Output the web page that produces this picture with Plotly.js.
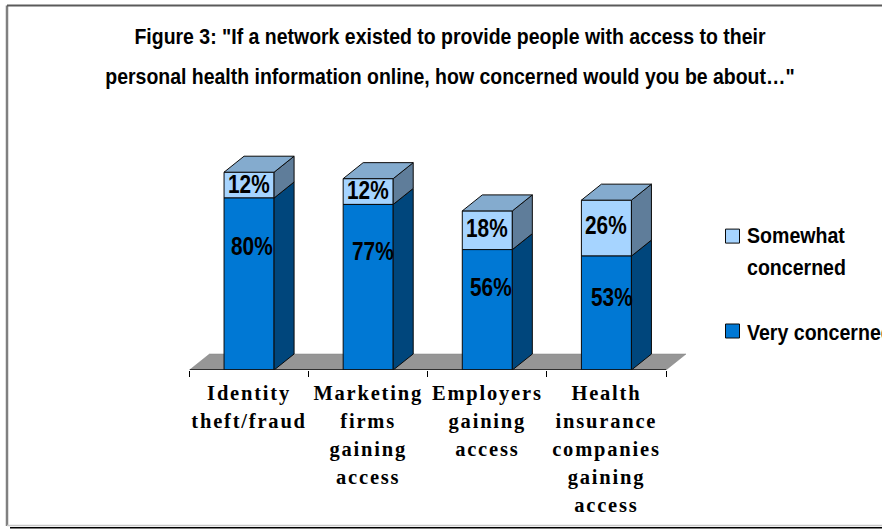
<!DOCTYPE html>
<html>
<head>
<meta charset="utf-8">
<script src="https://cdn.plot.ly/plotly-3.0.1.min.js"></script>
<style>
html,body{margin:0;padding:0;background:#fff;overflow:hidden}
.xtick text{letter-spacing:1.8px}
.gtitle{transform-box:fill-box;transform-origin:center;transform:scaleX(.885)}
.annotation-text{transform-box:fill-box;transform-origin:center;transform:scaleX(.8)}
.legendtext{transform-box:fill-box;transform-origin:left center;transform:translateX(-5.5px) scaleX(.89)}
</style>
</head>
<body>
<div id="chart" style="width:882px;height:529px"></div>
<script>
const categories = ["Identity<br>theft/fraud","Marketing<br>firms<br>gaining<br>access","Employers<br>gaining<br>access","Health<br>insurance<br>companies<br>gaining<br>access"];
const veryConcerned = [80,77,56,53];
const somewhatConcerned = [12,12,18,26];
const veryLabelShift = [48,47.5,38,41];
const veryLabelXShift = [3,4.5,4,6];
const somewhatLabelShift = [1,1,2,3];
const titleLines = '"If a network existed to provide people with access to their<br>personal health information online, how concerned would you be about…"';

const W=882,H=529, pxPerCat=119.1, pxPerPct=2.15;
const depthX=20/pxPerCat, depthY=16/pxPerPct, half=0.21;
const idx=categories.map((_,i)=>i);
const colors={front2:'#A6D4FF',front1:'#0078D4',side1:'#00467C',side2:'#5F7D9A',top:'#84ABCE',floor:'#969696'};
const face={type:'scatter',mode:'lines',fill:'toself',line:{color:'#0a0a0a',width:1},hoverinfo:'skip',showlegend:false,cliponaxis:false};
const traces=[];
traces.push({type:'bar',name:'Somewhat<br>concerned',x:idx,y:somewhatConcerned,base:veryConcerned,width:0.42,legendgroup:'b',marker:{color:colors.front2,line:{color:'#0a0a0a',width:1}},hoverinfo:'y'});
traces.push({type:'bar',name:'Very concerned',x:idx,y:veryConcerned,width:0.42,legendgroup:'a',marker:{color:colors.front1,line:{color:'#0a0a0a',width:1}},hoverinfo:'y'});
idx.forEach(i=>{
  const r=i+half, l=i-half, a=veryConcerned[i], b=a+somewhatConcerned[i];
  traces.push(Object.assign({},face,{x:[r,r+depthX,r+depthX,r,r],y:[0,depthY,a+depthY,a,0],fillcolor:colors.side1}));
  traces.push(Object.assign({},face,{x:[r,r+depthX,r+depthX,r,r],y:[a,a+depthY,b+depthY,b,a],fillcolor:colors.side2}));
  traces.push(Object.assign({},face,{x:[l,l+depthX,r+depthX,r,l],y:[b,b+depthY,b+depthY,b,b],fillcolor:colors.top}));
});
traces.push({type:'scatter',mode:'lines',x:[-0.5,3.5],y:[0,0],line:{color:'#111',width:1.5},hoverinfo:'skip',showlegend:false,cliponaxis:false});

const sans='"Liberation Sans",Arial,sans-serif';
const annFont={family:sans,size:26,color:'#000',weight:700};
const annotations=[];
idx.forEach(i=>{
  annotations.push({xref:'x',yref:'y',x:i,y:veryConcerned[i],yshift:-veryLabelShift[i],xshift:veryLabelXShift[i],text:veryConcerned[i]+'%',showarrow:false,font:annFont});
  annotations.push({xref:'x',yref:'y',x:i,y:veryConcerned[i]+somewhatConcerned[i]/2,yshift:somewhatLabelShift[i],text:somewhatConcerned[i]+'%',showarrow:false,font:annFont});
});
const px=v=>v/W, py=v=>1-v/H;
const frame=(x0,y0,x1,y1,c,w)=>({type:'line',xref:'paper',yref:'paper',x0:px(x0),x1:px(x1),y0:py(y0),y1:py(y1),line:{color:c,width:w},layer:'below'});
const shapes=[
 {type:'path',xref:'x',yref:'y',layer:'below',path:`M -0.5 0 L ${-0.5+depthX} ${depthY} L ${3.5+depthX} ${depthY} L 3.5 0 Z`,fillcolor:colors.floor,line:{color:'#808080',width:0.5}},
 frame(7,5.5,7,526,'#808080',2.5),
 frame(7,5.5,882,5.5,'#5a5a5a',2),
 frame(7,525.5,882,525.5,'#c8c8c8',1.5),
 frame(10,527.7,882,527.7,'#000',1.5)
];
const layout={
  width:W,height:H,autosize:false,paper_bgcolor:'#fff',plot_bgcolor:'rgba(0,0,0,0)',
  margin:{l:0,r:0,t:0,b:0,autoexpand:false},
  title:{text:'Figure 3: '+titleLines,x:450/882,xanchor:'center',y:1-44/529,yanchor:'middle',
    font:{family:sans,size:22,color:'#000',weight:700}},
  xaxis:{domain:[189.5/W,686/W],range:[-0.5,3.5+depthX],tickmode:'array',tickvals:idx,ticktext:categories,ticks:'',tickangle:0,showgrid:false,zeroline:false,showline:false,ticklabelstandoff:8,
    tickfont:{family:'"Liberation Serif",Georgia,serif',size:20.5,color:'#000',weight:700},
    minor:{tickmode:'array',tickvals:[-0.5,0.5,1.5,2.5,3.5],ticks:'outside',ticklen:6,tickwidth:1,tickcolor:'#000',showgrid:false}},
  yaxis:{domain:[(H-370)/H,(H-155)/H],range:[0,100],visible:false},
  barmode:'overlay',
  legend:{x:712.5/W,xanchor:'left',y:1-201/H,yanchor:'top',traceorder:'grouped',tracegroupgap:49,bgcolor:'rgba(0,0,0,0)',entrywidth:160,entrywidthmode:'pixels',
    font:{family:sans,size:22,color:'#000',weight:700}},
  shapes:shapes,annotations:annotations,showlegend:true
};
function spaceLines(sel,step,first){
  document.querySelectorAll(sel).forEach(t=>{
    t.querySelectorAll('tspan.line').forEach((s,k)=>s.setAttribute('dy',(first+k*step)+'px'));
  });
}
Plotly.newPlot('chart',traces,layout,{displayModeBar:false,staticPlot:true}).then(()=>{
  spaceLines('.gtitle',40,0);
  spaceLines('.xtick text',28,0);
  spaceLines('.legendtext',32,13);
  document.querySelectorAll('.legendpoints path').forEach(p=>p.setAttribute('d','M7,7H-7V-7H7Z'));
});
</script>
</body>
</html>
